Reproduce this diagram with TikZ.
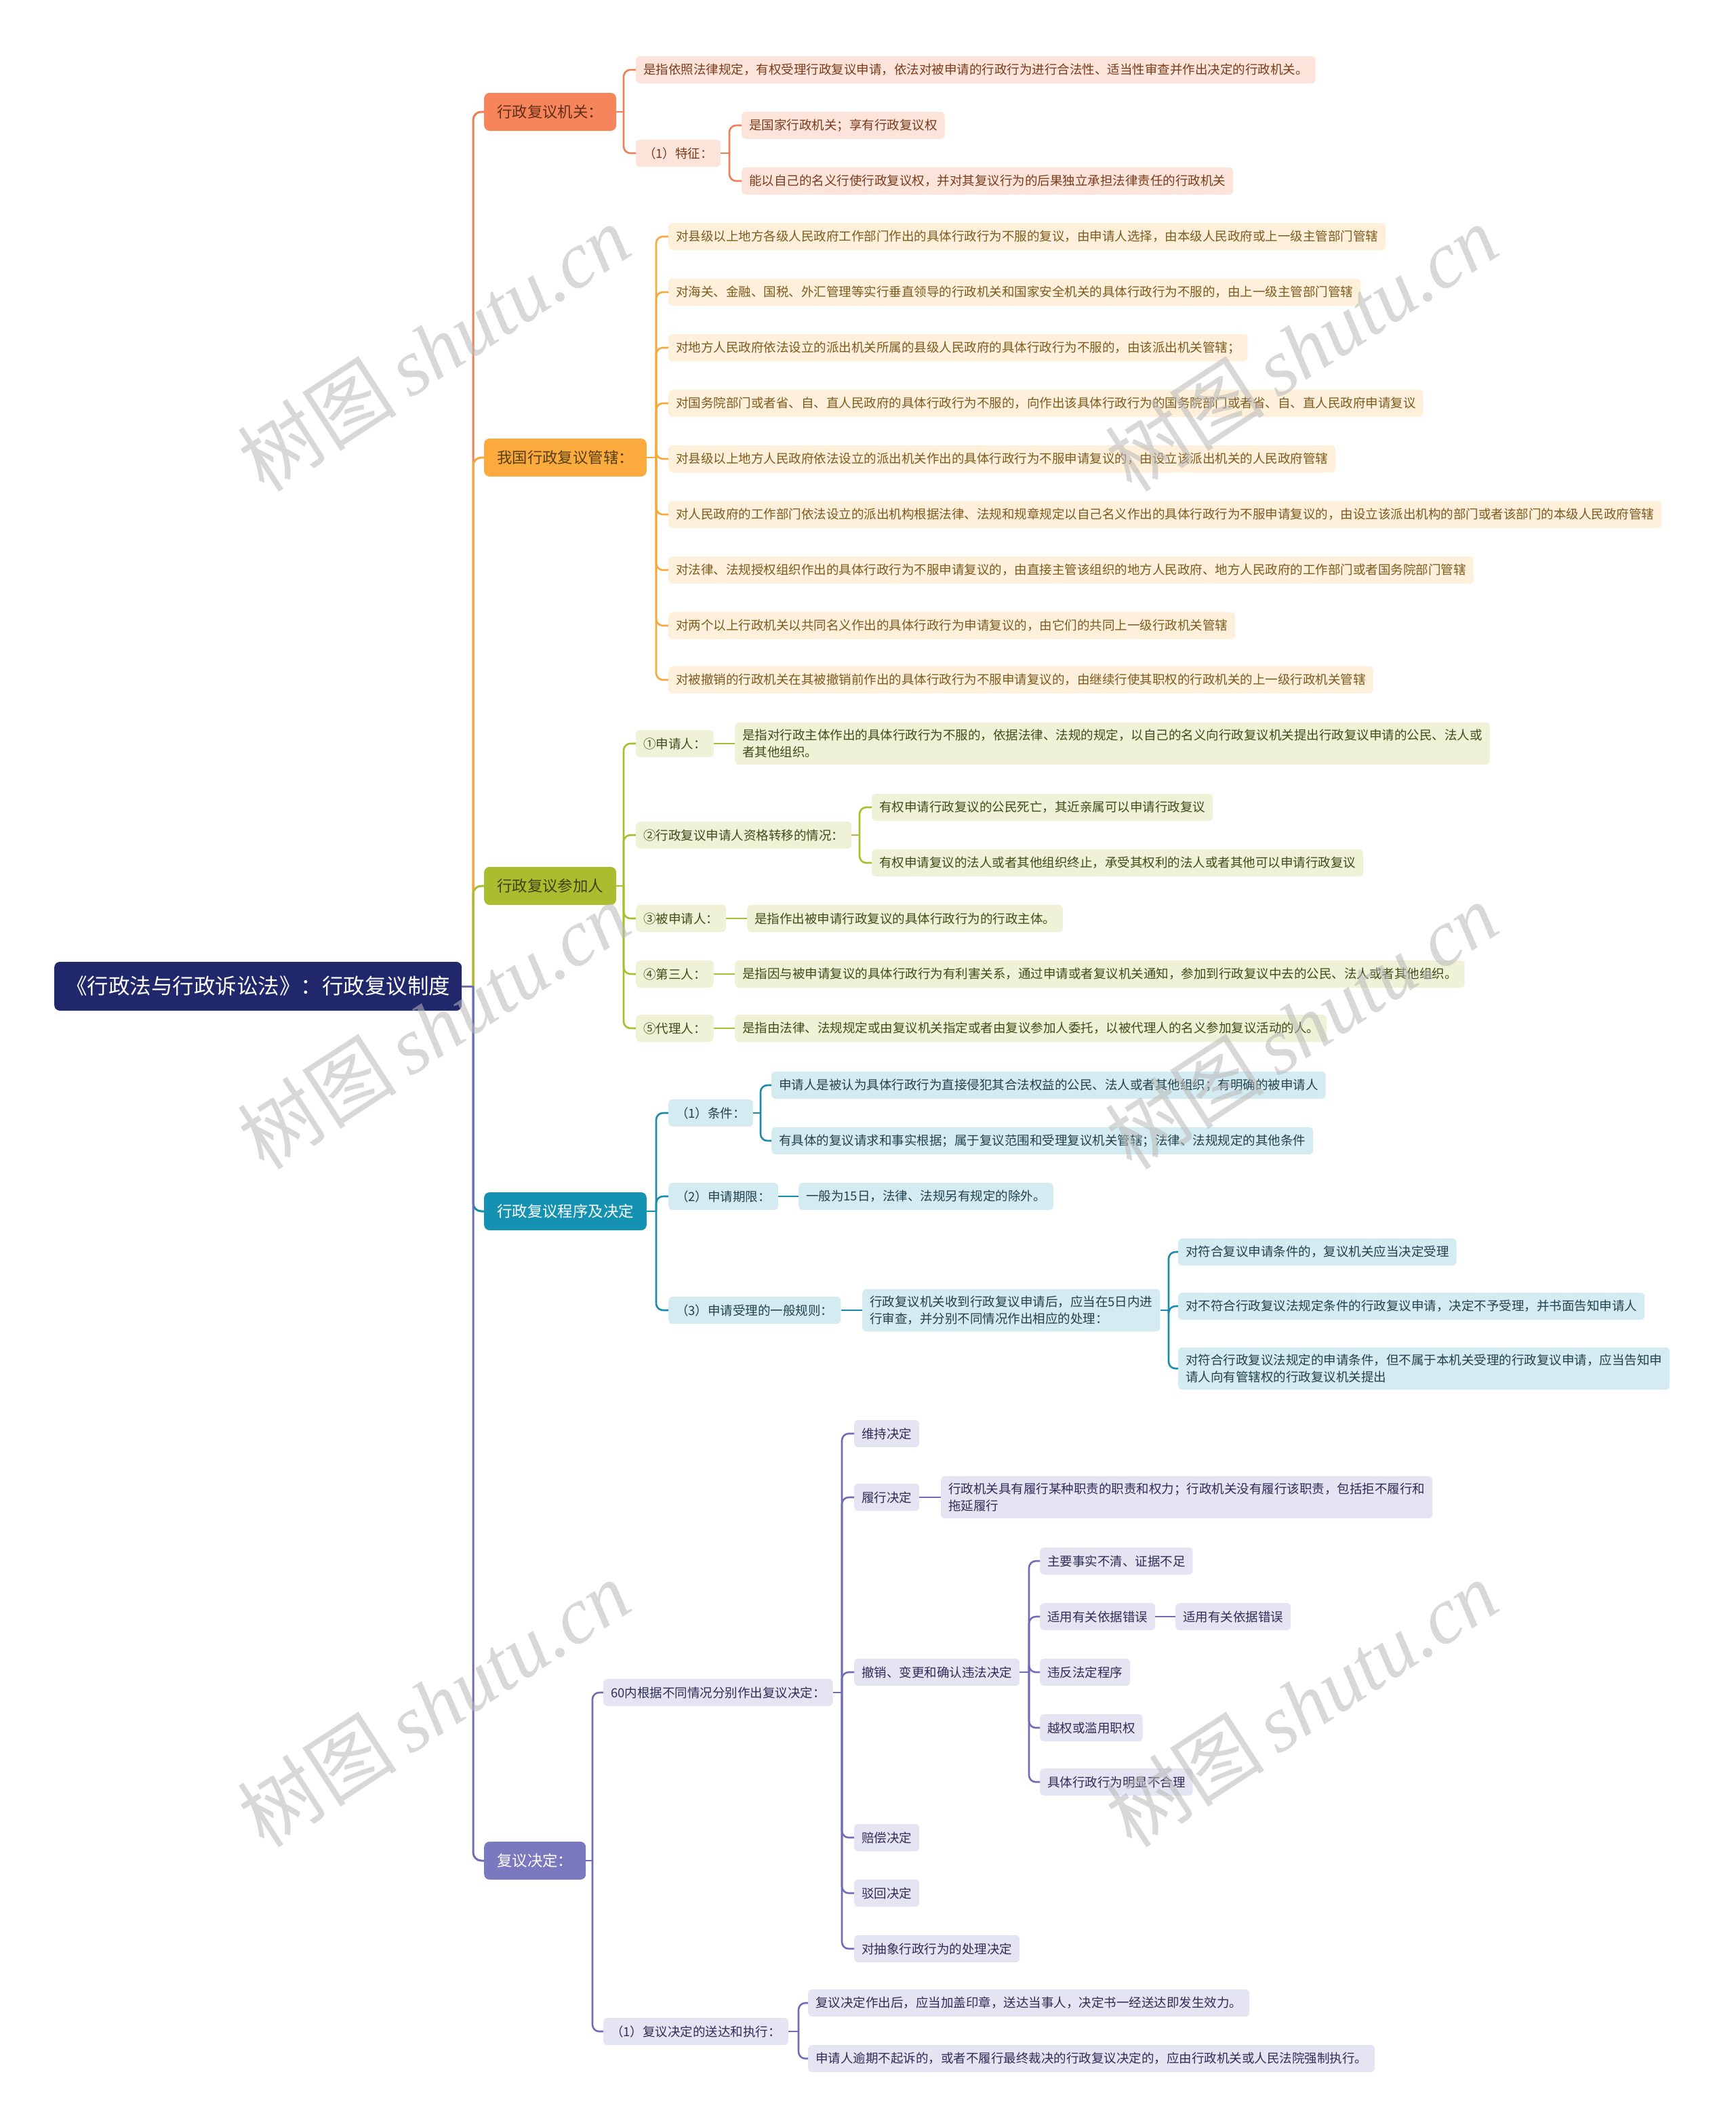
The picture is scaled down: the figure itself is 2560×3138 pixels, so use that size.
\documentclass[tikz,border=0pt]{standalone}
\usepackage{fontspec}
\setmainfont{Noto Sans CJK SC}
\newfontfamily\wmlatin{Liberation Serif}
\newfontfamily\wmcjk{Noto Sans CJK SC}
\definecolor{rootc}{HTML}{20276B}
\definecolor{Anode}{HTML}{F7855B}\definecolor{Aln}{HTML}{EE8058}\definecolor{Alf}{HTML}{FDE4DA}\definecolor{Atx}{HTML}{7A3B1C}
\definecolor{Bnode}{HTML}{FBAA3D}\definecolor{Bln}{HTML}{F5A93C}\definecolor{Blf}{HTML}{FEF0DA}\definecolor{Btx}{HTML}{7D5A1E}
\definecolor{Cnode}{HTML}{A9BD2F}\definecolor{Cln}{HTML}{A9BD2F}\definecolor{Clf}{HTML}{EFF2D6}\definecolor{Ctx}{HTML}{44491A}
\definecolor{Dnode}{HTML}{1592B2}\definecolor{Dln}{HTML}{1A8BAA}\definecolor{Dlf}{HTML}{D5EBF2}\definecolor{Dtx}{HTML}{21414C}
\definecolor{Enode}{HTML}{7A78BF}\definecolor{Eln}{HTML}{6F6DB3}\definecolor{Elf}{HTML}{E4E4F2}\definecolor{Etx}{HTML}{2E2D55}
\definecolor{wm}{HTML}{B8B8B8}
\tikzset{
  leafbase/.style={rounded corners=6pt, inner xsep=11pt, inner ysep=10pt, minimum height=40pt, anchor=west, align=left, font=\fontsize{18.5pt}{25pt}\selectfont},
  lfA/.style={leafbase, fill=Alf, text=Atx},
  lfB/.style={leafbase, fill=Blf, text=Btx},
  lfC/.style={leafbase, fill=Clf, text=Ctx},
  lfD/.style={leafbase, fill=Dlf, text=Dtx},
  lfE/.style={leafbase, fill=Elf, text=Etx},
  topbase/.style={rounded corners=8pt, inner xsep=19pt, minimum height=56pt, anchor=west, font=\fontsize{22.4pt}{28pt}\selectfont},
  lnbase/.style={line width=2.6pt, rounded corners=10pt},
  lnA/.style={lnbase, draw=Aln}, lnB/.style={lnbase, draw=Bln}, lnC/.style={lnbase, draw=Cln},
  lnD/.style={lnbase, draw=Dln}, lnE/.style={lnbase, draw=Eln},
  wmark/.style={text=wm, opacity=0.55, rotate=33, anchor=center}
}
\begin{document}
\begin{tikzpicture}[x=1pt,y=-1pt]
\fill[white] (0,0) rectangle (2560,3138);
\useasboundingbox (0,0) rectangle (2560,3138);
\begin{scope}[yshift=-3pt]
% root
\node[anchor=west, fill=rootc, text=white, rounded corners=8pt, inner xsep=17pt, minimum height=72pt, font=\fontsize{31.5pt}{36pt}\selectfont] (root) at (80,1452) {《行政法与行政诉讼法》：行政复议制度};

% level 1
\node[topbase, fill=Anode, text=Atx!80!black] (A) at (714,162) {行政复议机关：};
\node[topbase, fill=Bnode, text=Btx!70!black] (B) at (714,672) {我国行政复议管辖：};
\node[topbase, fill=Cnode, text=Ctx!90!black] (C) at (714,1304) {行政复议参加人};
\node[topbase, fill=Dnode, text=white] (D) at (714,1784) {行政复议程序及决定};
\node[topbase, fill=Enode, text=white] (E) at (714,2742) {复议决定：};

% section A
\node[lfA] (A1) at (938,100) {是指依照法律规定，有权受理行政复议申请，依法对被申请的行政行为进行合法性、适当性审查并作出决定的行政机关。};
\node[lfA] (A2) at (938,223) {（1）特征：};
\node[lfA] (A2a) at (1094,182) {是国家行政机关；享有行政复议权};
\node[lfA] (A2b) at (1094,264) {能以自己的名义行使行政复议权，并对其复议行为的后果独立承担法律责任的行政机关};

% section B
\node[lfB] (B1) at (986,346) {对县级以上地方各级人民政府工作部门作出的具体行政行为不服的复议，由申请人选择，由本级人民政府或上一级主管部门管辖};
\node[lfB] (B2) at (986,428) {对海关、金融、国税、外汇管理等实行垂直领导的行政机关和国家安全机关的具体行政行为不服的，由上一级主管部门管辖};
\node[lfB] (B3) at (986,510) {对地方人民政府依法设立的派出机关所属的县级人民政府的具体行政行为不服的，由该派出机关管辖；};
\node[lfB] (B4) at (986,592) {对国务院部门或者省、自、直人民政府的具体行政行为不服的，向作出该具体行政行为的国务院部门或者省、自、直人民政府申请复议};
\node[lfB] (B5) at (986,674) {对县级以上地方人民政府依法设立的派出机关作出的具体行政行为不服申请复议的，由设立该派出机关的人民政府管辖};
\node[lfB] (B6) at (986,756) {对人民政府的工作部门依法设立的派出机构根据法律、法规和规章规定以自己名义作出的具体行政行为不服申请复议的，由设立该派出机构的部门或者该部门的本级人民政府管辖};
\node[lfB] (B7) at (986,838) {对法律、法规授权组织作出的具体行政行为不服申请复议的，由直接主管该组织的地方人民政府、地方人民政府的工作部门或者国务院部门管辖};
\node[lfB] (B8) at (986,920) {对两个以上行政机关以共同名义作出的具体行政行为申请复议的，由它们的共同上一级行政机关管辖};
\node[lfB] (B9) at (986,1000) {对被撤销的行政机关在其被撤销前作出的具体行政行为不服申请复议的，由继续行使其职权的行政机关的上一级行政机关管辖};

% section C
\node[lfC] (C1) at (938,1094) {①申请人：};
\node[lfC] (C1a) at (1084,1094) {是指对行政主体作出的具体行政行为不服的，依据法律、法规的规定，以自己的名义向行政复议机关提出行政复议申请的公民、法人或\\者其他组织。};
\node[lfC] (C2) at (938,1229) {②行政复议申请人资格转移的情况：};
\node[lfC] (C2a) at (1286,1188) {有权申请行政复议的公民死亡，其近亲属可以申请行政复议};
\node[lfC] (C2b) at (1286,1270) {有权申请复议的法人或者其他组织终止，承受其权利的法人或者其他可以申请行政复议};
\node[lfC] (C3) at (938,1352) {③被申请人：};
\node[lfC] (C3a) at (1102,1352) {是指作出被申请行政复议的具体行政行为的行政主体。};
\node[lfC] (C4) at (938,1434) {④第三人：};
\node[lfC] (C4a) at (1084,1434) {是指因与被申请复议的具体行政行为有利害关系，通过申请或者复议机关通知，参加到行政复议中去的公民、法人或者其他组织。};
\node[lfC] (C5) at (938,1514) {⑤代理人：};
\node[lfC] (C5a) at (1084,1514) {是指由法律、法规规定或由复议机关指定或者由复议参加人委托，以被代理人的名义参加复议活动的人。};

% section D
\node[lfD] (D1) at (986,1639) {（1）条件：};
\node[lfD] (D1a) at (1138,1598) {申请人是被认为具体行政行为直接侵犯其合法权益的公民、法人或者其他组织；有明确的被申请人};
\node[lfD] (D1b) at (1138,1680) {有具体的复议请求和事实根据；属于复议范围和受理复议机关管辖；法律、法规规定的其他条件};
\node[lfD] (D2) at (986,1762) {（2）申请期限：};
\node[lfD] (D2a) at (1178,1762) {一般为15日，法律、法规另有规定的除外。};
\node[lfD] (D3) at (986,1930) {（3）申请受理的一般规则：};
\node[lfD] (D3a) at (1272,1930) {行政复议机关收到行政复议申请后，应当在5日内进\\行审查，并分别不同情况作出相应的处理：};
\node[lfD] (D3b) at (1738,1844) {对符合复议申请条件的，复议机关应当决定受理};
\node[lfD] (D3c) at (1738,1924) {对不符合行政复议法规定条件的行政复议申请，决定不予受理，并书面告知申请人};
\node[lfD] (D3d) at (1738,2016) {对符合行政复议法规定的申请条件，但不属于本机关受理的行政复议申请，应当告知申\\请人向有管辖权的行政复议机关提出};

% section E
\node[lfE] (E1) at (890,2494) {60内根据不同情况分别作出复议决定：};
\node[lfE] (E1a) at (1260,2112) {维持决定};
\node[lfE] (E1b) at (1260,2206) {履行决定};
\node[lfE] (E1bx) at (1388,2206) {行政机关具有履行某种职责的职责和权力；行政机关没有履行该职责，包括拒不履行和\\拖延履行};
\node[lfE] (E1c) at (1260,2464) {撤销、变更和确认违法决定};
\node[lfE] (E1c1) at (1534,2300) {主要事实不清、证据不足};
\node[lfE] (E1c2) at (1534,2382) {适用有关依据错误};
\node[lfE] (E1c2x) at (1734,2382) {适用有关依据错误};
\node[lfE] (E1c3) at (1534,2464) {违反法定程序};
\node[lfE] (E1c4) at (1534,2546) {越权或滥用职权};
\node[lfE] (E1c5) at (1534,2626) {具体行政行为明显不合理};
\node[lfE] (E1d) at (1260,2708) {赔偿决定};
\node[lfE] (E1e) at (1260,2790) {驳回决定};
\node[lfE] (E1f) at (1260,2872) {对抽象行政行为的处理决定};
\node[lfE] (E2) at (890,2994) {（1）复议决定的送达和执行：};
\node[lfE] (E2a) at (1192,2952) {复议决定作出后，应当加盖印章，送达当事人，决定书一经送达即发生效力。};
\node[lfE] (E2b) at (1192,3034) {申请人逾期不起诉的，或者不履行最终裁决的行政复议决定的，应由行政机关或人民法院强制执行。};

% branch points
\coordinate (bR) at (698,1452);
\coordinate (bA) at (920,162);
\coordinate (bA2) at (1076,223);
\coordinate (bB) at (968,672);
\coordinate (bC) at (920,1304);
\coordinate (bC2) at (1268,1229);
\coordinate (bD) at (968,1784);
\coordinate (bD1) at (1122,1639);
\coordinate (bD3) at (1724,1930);
\coordinate (bE) at (874,2742);
\coordinate (bE1) at (1242,2494);
\coordinate (bE1c) at (1518,2464);
\coordinate (bE2) at (1178,2994);

% root connectors
\draw[lnA, line width=3pt, rounded corners=12pt] (bR) |- (A.west);
\draw[lnB, line width=3pt, rounded corners=12pt] (bR) |- (B.west);
\draw[lnC, line width=3pt, rounded corners=12pt] (bR) |- (C.west);
\draw[lnD, line width=3pt, rounded corners=12pt] (bR) |- (D.west);
\draw[lnE, line width=3pt, rounded corners=12pt] (bR) |- (E.west);
\draw[lnE, line width=3pt] (root.east) -- (bR);

% A
\draw[lnA] (A.east) -- (bA);
\draw[lnA] (bA) |- (A1.west);
\draw[lnA] (bA) |- (A2.west);
\draw[lnA] (A2.east) -- (bA2);
\draw[lnA] (bA2) |- (A2a.west);
\draw[lnA] (bA2) |- (A2b.west);

% B
\draw[lnB] (B.east) -- (bB);
\foreach \n in {B1,B2,B3,B4,B5,B6,B7,B8,B9} \draw[lnB] (bB) |- (\n.west);

% C
\draw[lnC] (C.east) -- (bC);
\foreach \n in {C1,C2,C3,C4,C5} \draw[lnC] (bC) |- (\n.west);
\draw[lnC] (C1.east) -- (C1a.west);
\draw[lnC] (C2.east) -- (bC2);
\draw[lnC] (bC2) |- (C2a.west);
\draw[lnC] (bC2) |- (C2b.west);
\draw[lnC] (C3.east) -- (C3a.west);
\draw[lnC] (C4.east) -- (C4a.west);
\draw[lnC] (C5.east) -- (C5a.west);

% D
\draw[lnD] (D.east) -- (bD);
\foreach \n in {D1,D2,D3} \draw[lnD] (bD) |- (\n.west);
\draw[lnD] (D1.east) -- (bD1);
\draw[lnD] (bD1) |- (D1a.west);
\draw[lnD] (bD1) |- (D1b.west);
\draw[lnD] (D2.east) -- (D2a.west);
\draw[lnD] (D3.east) -- (D3a.west);
\draw[lnD] (D3a.east) -- (bD3);
\foreach \n in {D3b,D3c,D3d} \draw[lnD] (bD3) |- (\n.west);

% E
\draw[lnE] (E.east) -- (bE);
\draw[lnE] (bE) |- (E1.west);
\draw[lnE] (bE) |- (E2.west);
\draw[lnE] (E1.east) -- (bE1);
\foreach \n in {E1a,E1b,E1c,E1d,E1e,E1f} \draw[lnE] (bE1) |- (\n.west);
\draw[lnE] (E1b.east) -- (E1bx.west);
\draw[lnE] (E1c.east) -- (bE1c);
\foreach \n in {E1c1,E1c2,E1c3,E1c4,E1c5} \draw[lnE] (bE1c) |- (\n.west);
\draw[lnE] (E1c2.east) -- (E1c2x.west);
\draw[lnE] (E2.east) -- (bE2);
\draw[lnE] (bE2) |- (E2a.west);
\draw[lnE] (bE2) |- (E2b.west);

% watermarks
\foreach \wx/\wy [count=\i] in {640/510,1920/510,640/1510,1920/1510,640/2510,1920/2510}
  \node[wmark] (wm\i) at (\wx,\wy) {\fontsize{118pt}{128pt}\selectfont\wmcjk 树图\,\wmlatin\itshape shutu.cn};
\end{scope}
\end{tikzpicture}
\end{document}
